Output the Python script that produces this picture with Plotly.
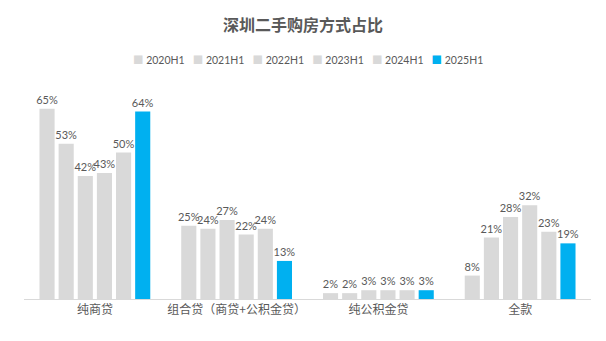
import plotly.graph_objects as go

categories = ["纯商贷", "组合贷（商贷+公积金贷）", "纯公积金贷", "全款"]
series_names = ["2020H1", "2021H1", "2022H1", "2023H1", "2024H1", "2025H1"]
values = {
    "2020H1": [65, 25, 2, 8],
    "2021H1": [53, 24, 2, 21],
    "2022H1": [42, 27, 3, 28],
    "2023H1": [43, 22, 3, 32],
    "2024H1": [50, 24, 3, 23],
    "2025H1": [64, 13, 3, 19],
}
colors = ["#D9D9D9"] * 5 + ["#00B0F0"]

FONT = "Lato, Noto Sans CJK SC, sans-serif"
TXT = "#595959"

fig = go.Figure()
for name, c in zip(series_names, colors):
    v = values[name]
    fig.add_trace(go.Bar(
        x=categories, y=v, name=name, marker=dict(color=c, line=dict(width=0)),
        text=[f"{x}%" for x in v], textposition="outside", cliponaxis=False,
        textfont=dict(size=11, color=TXT, family=FONT),
        constraintext="none", showlegend=False,
    ))

# compact legend built from the series names and colours
legend_text = "&nbsp;&nbsp;&nbsp;".join(
    f"<span style='color:{c}'>■</span>&nbsp;{n}" for n, c in zip(series_names, colors)
)

fig.update_layout(
    width=606, height=341,
    margin=dict(l=24, r=15, t=94, b=42),
    paper_bgcolor="white", plot_bgcolor="white",
    barmode="group", bargap=0.19, bargroupgap=0.21,
    title=dict(text="<b>深圳二手购房方式占比</b>", x=0.5, xanchor="center", y=0.926, yanchor="middle",
               font=dict(size=16, color=TXT, family="Noto Sans CJK SC")),
    annotations=[dict(text=legend_text, xref="paper", yref="paper", x=0.5, y=1.165,
                      xanchor="center", yanchor="middle", showarrow=False,
                      font=dict(size=10.5, color=TXT, family=FONT))],
    font=dict(family=FONT, color=TXT),
)
fig.update_xaxes(showline=True, linecolor="#D9D9D9", linewidth=1, ticks="",
                 tickfont=dict(size=12, color=TXT, family="Noto Sans CJK SC"))
fig.update_yaxes(visible=False, range=[0, 70], showgrid=False, zeroline=False)

fig.write_html("out.html")
